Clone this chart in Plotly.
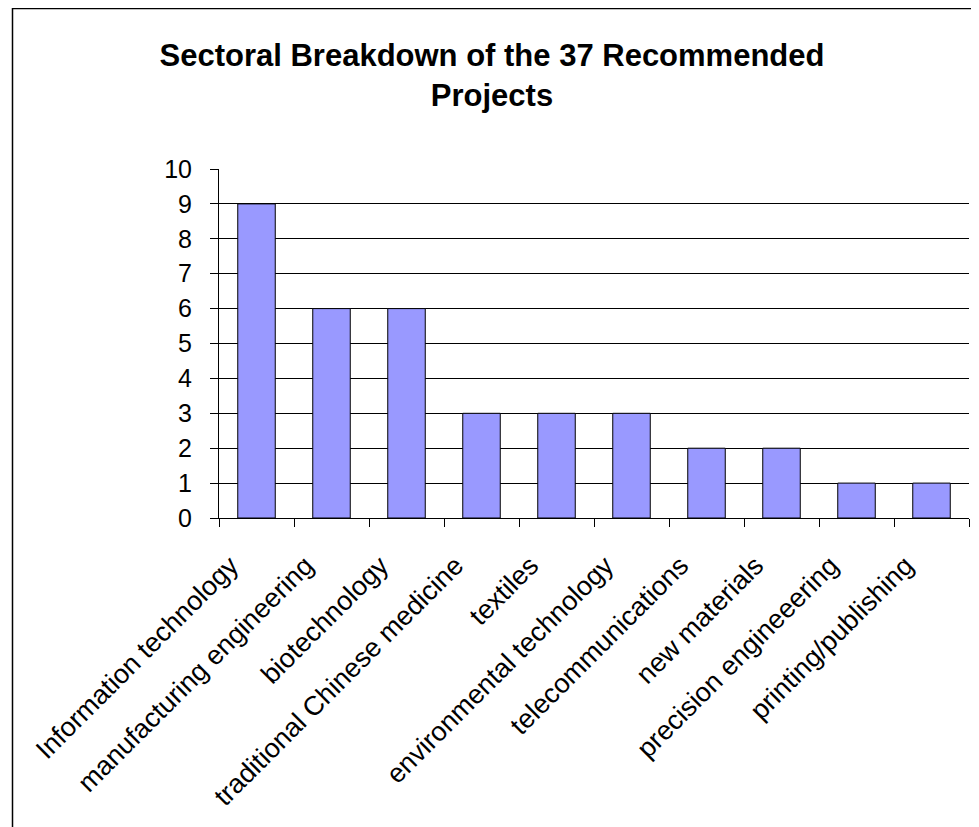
import plotly.graph_objects as go

categories = ["Information technology", "manufacturing engineering", "biotechnology",
              "traditional Chinese medicine", "textiles", "environmental technology",
              "telecommunications", "new materials", "precision engineeering",
              "printing/publishing"]
values = [9, 6, 6, 3, 3, 3, 2, 2, 1, 1]
y_ticks = list(range(0, 11))

# page body adds an 8px offset; figure coords = viewport - 8
OFF = 8
W, H = 971, 819
L, T = 219 - OFF, 169 - OFF
R = W - (969 - OFF)
B = H - (518 - OFF)
pw, ph = W - L - R, H - T - B


def px_x(x):
    return (x - L) / pw


def px_y(y):
    return (H - B - y) / ph


fig = go.Figure(go.Bar(
    x=categories, y=values, width=0.5,
    marker=dict(color="#9999FF", line=dict(color="black", width=1)),
))

fig.update_layout(
    width=W, height=H,
    margin=dict(l=L, r=R, t=T, b=B),
    paper_bgcolor="white", plot_bgcolor="white",
    font=dict(family="Liberation Sans, Arial, sans-serif", color="black"),
    title=dict(text="<b>Sectoral Breakdown of the 37 Recommended<br>Projects</b>",
               x=(492 - OFF) / W, xref="container", xanchor="center",
               y=1 - 58 / H, yref="container", yanchor="top",
               font=dict(size=31, color="black")),
    showlegend=False,
    xaxis=dict(
        showline=True, linecolor="black", linewidth=1,
        tickangle=-45, tickfont=dict(size=27),
        ticks="outside", ticklen=8, tickcolor="black",
        tickson="boundaries", showgrid=False,
        ticklabelstandoff=20, ticklabelshift=-26,
    ),
    yaxis=dict(
        range=[0, 10], tickvals=y_ticks,
        showline=True, linecolor="black", linewidth=1,
        ticks="outside", ticklen=8, tickcolor="black",
        showgrid=True, gridcolor="black", gridwidth=1,
        tickfont=dict(size=25), zeroline=False,
        ticklabelstandoff=13,
    ),
    shapes=[dict(type="rect", xref="paper", yref="paper",
                 x0=px_x(4.5), x1=px_x(W + 20), y0=px_y(H + 20), y1=px_y(0.5),
                 line=dict(color="black", width=1.5), fillcolor="rgba(0,0,0,0)",
                 layer="below")],
)

fig.write_html("out.html")
